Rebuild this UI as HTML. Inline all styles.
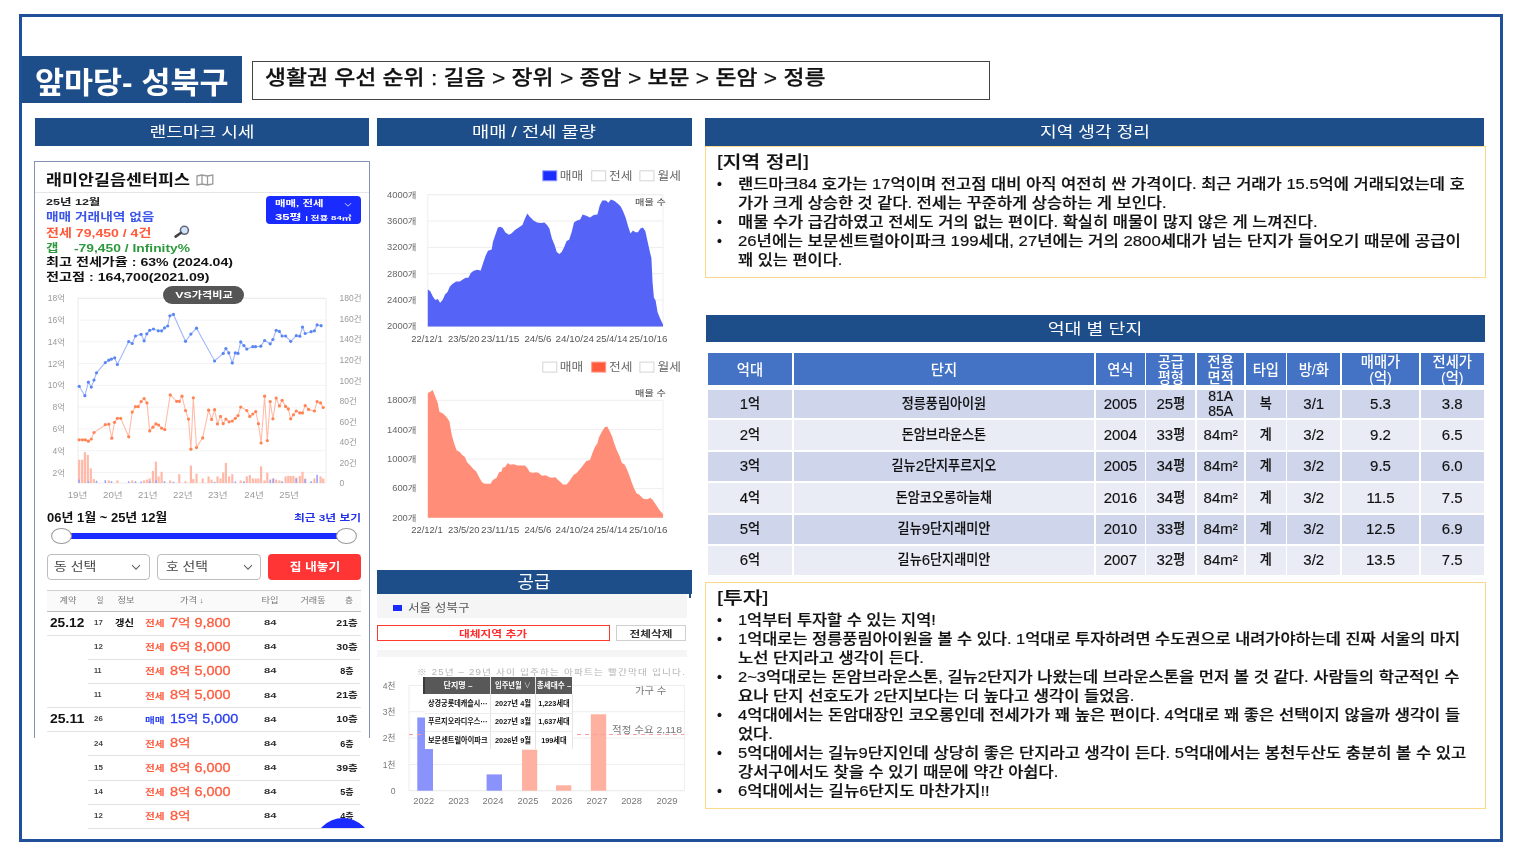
<!DOCTYPE html>
<html lang="ko">
<head>
<meta charset="utf-8">
<title>앞마당- 성북구</title>
<style>
*{box-sizing:border-box;margin:0;padding:0}
html,body{width:1520px;height:855px;background:#fff;overflow:hidden}
body{position:relative;font-family:"Liberation Sans","Noto Sans CJK KR",sans-serif;color:#111}
.abs{position:absolute}
.sm{position:absolute;white-space:nowrap}
.k{font-weight:700}
.frame{left:19px;top:14px;width:1484px;height:828px;border:3px solid #21509a}
.bar{background:#1e4e8a}
.ht{color:#fff;font-size:15.2px;line-height:28px}
.ybox{border:1.5px solid #f9d98a;background:#fff}
.md{font-family:"Liberation Sans","Noto Sans CJK KR Medium","Noto Sans CJK KR",sans-serif}
.bt{font-size:14.8px;line-height:19px;color:#111;-webkit-text-stroke:0.2px #111}
.bh{font-size:17.2px;line-height:22px;color:#111;-webkit-text-stroke:0.2px #111}
.tc{font-family:"Liberation Sans","Noto Sans CJK KR Medium","Noto Sans CJK KR",sans-serif;-webkit-text-stroke:0.15px currentColor;position:absolute;display:flex;align-items:center;justify-content:center;text-align:center;white-space:nowrap;font-size:13.1px;line-height:12.6px;color:#111}
.tc i{font-style:normal;font-size:15px}
.th{background:#4472c4;color:#fff;font-size:14.3px;line-height:16.2px;-webkit-text-stroke:0;padding-top:1px}
.r1{background:#cfd5ea}.r2{background:#e9ebf5}
.card{left:33.8px;top:161px;width:336.6px;height:576.5px;border:1.6px solid #8692b4;border-bottom:none;background:#fff}
</style>
</head>
<body>
<div class="abs frame"></div>
<div class="abs bar" style="left:22px;top:56px;width:220px;height:47px"></div>
<div class="abs" style="left:252px;top:61px;width:738px;height:38.5px;border:1px solid #444"></div>

<div class="sm" style="left:35.0px;top:59.6px;color:#fff;font-weight:700;font-size:30px;line-height:46px;transform-origin:0 50%;transform:scaleX(1.0520)">앞마당- 성북구</div>
<div class="sm md" style="left:264.5px;top:61.9px;font-size:20.6px;line-height:32px;color:#111;-webkit-text-stroke:0.25px #111;transform-origin:0 50%;transform:scaleX(1.1078)">생활권 우선 순위 : 길음 &gt; 장위 &gt; 종암 &gt; 보문 &gt; 돈암 &gt; 정릉</div>
<div class="abs bar" style="left:35px;top:118px;width:334px;height:28px"></div>
<div class="sm ht" style="left:202.0px;top:117.5px;transform-origin:0 50%;transform:translateX(-52.50px) scaleX(1.1923)">랜드마크 시세</div>
<div class="abs bar" style="left:377px;top:118px;width:314.5px;height:28px"></div>
<div class="sm ht" style="left:534.4px;top:117.5px;transform-origin:0 50%;transform:translateX(-62.00px) scaleX(1.2312)">매매 / 전세 물량</div>
<div class="abs bar" style="left:705px;top:118px;width:779px;height:28px"></div>
<div class="sm ht" style="left:1094.5px;top:117.5px;transform-origin:0 50%;transform:translateX(-55.00px) scaleX(1.1920)">지역 생각 정리</div>
<div class="abs bar" style="left:706px;top:315px;width:779px;height:27px"></div>
<div class="sm ht" style="left:1094.7px;top:314.5px;transform-origin:0 50%;transform:translateX(-47.25px) scaleX(1.2067)">억대 별 단지</div>
<div class="abs ybox" style="left:705px;top:146px;width:781px;height:131.5px"></div>
<div class="sm md bh" style="left:717.0px;top:151.0px;transform-origin:0 50%;transform:scaleX(1.1857)"><span style="position:relative;top:-1.2px">[</span>지역 정리<span style="position:relative;top:-1.2px">]</span></div>
<div class="sm bt" style="left:717px;top:174.5px;font-size:14px">•</div>
<div class="sm md bt" style="left:737.8px;top:174.5px;transform-origin:0 50%;transform:scaleX(1.1177)">랜드마크84 호가는 17억이며 전고점 대비 아직 여전히 싼 가격이다. 최근 거래가 15.5억에 거래되었는데 호</div>
<div class="sm md bt" style="left:737.8px;top:193.5px;transform-origin:0 50%;transform:scaleX(1.1114)">가가 크게 상승한 것 같다. 전세는 꾸준하게 상승하는 게 보인다.</div>
<div class="sm bt" style="left:717px;top:212.5px;font-size:14px">•</div>
<div class="sm md bt" style="left:737.8px;top:212.5px;transform-origin:0 50%;transform:scaleX(1.1136)">매물 수가 급감하였고 전세도 거의 없는 편이다. 확실히 매물이 많지 않은 게 느껴진다.</div>
<div class="sm bt" style="left:717px;top:231.5px;font-size:14px">•</div>
<div class="sm md bt" style="left:737.8px;top:231.5px;transform-origin:0 50%;transform:scaleX(1.1307)">26년에는 보문센트럴아이파크 199세대, 27년에는 거의 2800세대가 넘는 단지가 들어오기 때문에 공급이</div>
<div class="sm md bt" style="left:737.8px;top:250.5px;transform-origin:0 50%;transform:scaleX(1.1105)">꽤 있는 편이다.</div>
<div class="abs ybox" style="left:705px;top:582px;width:781px;height:227.4px"></div>
<div class="sm md bh" style="left:717.0px;top:587.0px;transform-origin:0 50%;transform:scaleX(1.2499)"><span style="position:relative;top:-1.2px">[</span>투자<span style="position:relative;top:-1.2px">]</span></div>
<div class="sm bt" style="left:717px;top:610.8px;font-size:14px">•</div>
<div class="sm md bt" style="left:737.8px;top:610.8px;transform-origin:0 50%;transform:scaleX(1.1079)">1억부터 투자할 수 있는 지역!</div>
<div class="sm bt" style="left:717px;top:629.9px;font-size:14px">•</div>
<div class="sm md bt" style="left:737.8px;top:629.9px;transform-origin:0 50%;transform:scaleX(1.1091)">1억대로는 정릉풍림아이원을 볼 수 있다. 1억대로 투자하려면 수도권으로 내려가야하는데 진짜 서울의 마지</div>
<div class="sm md bt" style="left:737.8px;top:648.9px;transform-origin:0 50%;transform:scaleX(1.1185)">노선 단지라고 생각이 든다.</div>
<div class="sm bt" style="left:717px;top:668.0px;font-size:14px">•</div>
<div class="sm md bt" style="left:737.8px;top:668.0px;transform-origin:0 50%;transform:scaleX(1.1186)">2~3억대로는 돈암브라운스톤, 길뉴2단지가 나왔는데 브라운스톤을 먼저 볼 것 같다. 사람들의 학군적인 수</div>
<div class="sm md bt" style="left:737.8px;top:687.1px;transform-origin:0 50%;transform:scaleX(1.1190)">요나 단지 선호도가 2단지보다는 더 높다고 생각이 들었음.</div>
<div class="sm bt" style="left:717px;top:706.1px;font-size:14px">•</div>
<div class="sm md bt" style="left:737.8px;top:706.1px;transform-origin:0 50%;transform:scaleX(1.1183)">4억대에서는 돈암대장인 코오롱인데 전세가가 꽤 높은 편이다. 4억대로 꽤 좋은 선택이지 않을까 생각이 들</div>
<div class="sm md bt" style="left:737.8px;top:725.2px;transform-origin:0 50%;transform:scaleX(1.1103)">었다.</div>
<div class="sm bt" style="left:717px;top:744.3px;font-size:14px">•</div>
<div class="sm md bt" style="left:737.8px;top:744.3px;transform-origin:0 50%;transform:scaleX(1.1207)">5억대에서는 길뉴9단지인데 상당히 좋은 단지라고 생각이 든다. 5억대에서는 봉천두산도 충분히 볼 수 있고</div>
<div class="sm md bt" style="left:737.8px;top:763.4px;transform-origin:0 50%;transform:scaleX(1.1143)">강서구에서도 찾을 수 있기 때문에 약간 아쉽다.</div>
<div class="sm bt" style="left:717px;top:782.4px;font-size:14px">•</div>
<div class="sm md bt" style="left:737.8px;top:782.4px;transform-origin:0 50%;transform:scaleX(1.1262)">6억대에서는 길뉴6단지도 마찬가지!!</div>
<div class="tc th" style="left:708.0px;top:353.3px;width:83.9px;height:32px">억대</div>
<div class="tc th" style="left:793.5px;top:353.3px;width:300.9px;height:32px">단지</div>
<div class="tc th" style="left:1096.0px;top:353.3px;width:48.7px;height:32px">연식</div>
<div class="tc th" style="left:1146.3px;top:353.3px;width:49.1px;height:32px">공급<br>평형</div>
<div class="tc th" style="left:1197.0px;top:353.3px;width:47.4px;height:32px">전용<br>면적</div>
<div class="tc th" style="left:1246.0px;top:353.3px;width:39.6px;height:32px">타입</div>
<div class="tc th" style="left:1287.2px;top:353.3px;width:53.2px;height:32px">방/화</div>
<div class="tc th" style="left:1342.0px;top:353.3px;width:77.1px;height:32px">매매가<br>(억)</div>
<div class="tc th" style="left:1420.7px;top:353.3px;width:63.2px;height:32px">전세가<br>(억)</div>
<div class="tc r1" style="left:708.0px;top:390.0px;width:83.9px;height:28.4px"><i>1</i>억</div>
<div class="tc r1" style="left:793.5px;top:390.0px;width:300.9px;height:28.4px">정릉풍림아이원</div>
<div class="tc r1" style="left:1096.0px;top:390.0px;width:48.7px;height:28.4px"><i>2005</i></div>
<div class="tc r1" style="left:1146.3px;top:390.0px;width:49.1px;height:28.4px"><i>25</i>평</div>
<div class="tc r1" style="left:1197.0px;top:390.0px;width:47.4px;height:28.4px"><i style="font-size:14px;line-height:15.1px">81A<br>85A</i></div>
<div class="tc r1" style="left:1246.0px;top:390.0px;width:39.6px;height:28.4px">복</div>
<div class="tc r1" style="left:1287.2px;top:390.0px;width:53.2px;height:28.4px"><i>3/1</i></div>
<div class="tc r1" style="left:1342.0px;top:390.0px;width:77.1px;height:28.4px"><i>5.3</i></div>
<div class="tc r1" style="left:1420.7px;top:390.0px;width:63.2px;height:28.4px"><i>3.8</i></div>
<div class="tc r2" style="left:708.0px;top:420.4px;width:83.9px;height:29.8px"><i>2</i>억</div>
<div class="tc r2" style="left:793.5px;top:420.4px;width:300.9px;height:29.8px">돈암브라운스톤</div>
<div class="tc r2" style="left:1096.0px;top:420.4px;width:48.7px;height:29.8px"><i>2004</i></div>
<div class="tc r2" style="left:1146.3px;top:420.4px;width:49.1px;height:29.8px"><i>33</i>평</div>
<div class="tc r2" style="left:1197.0px;top:420.4px;width:47.4px;height:29.8px"><i>84m²</i></div>
<div class="tc r2" style="left:1246.0px;top:420.4px;width:39.6px;height:29.8px">계</div>
<div class="tc r2" style="left:1287.2px;top:420.4px;width:53.2px;height:29.8px"><i>3/2</i></div>
<div class="tc r2" style="left:1342.0px;top:420.4px;width:77.1px;height:29.8px"><i>9.2</i></div>
<div class="tc r2" style="left:1420.7px;top:420.4px;width:63.2px;height:29.8px"><i>6.5</i></div>
<div class="tc r1" style="left:708.0px;top:452.0px;width:83.9px;height:29.3px"><i>3</i>억</div>
<div class="tc r1" style="left:793.5px;top:452.0px;width:300.9px;height:29.3px">길뉴<i>2</i>단지푸르지오</div>
<div class="tc r1" style="left:1096.0px;top:452.0px;width:48.7px;height:29.3px"><i>2005</i></div>
<div class="tc r1" style="left:1146.3px;top:452.0px;width:49.1px;height:29.3px"><i>34</i>평</div>
<div class="tc r1" style="left:1197.0px;top:452.0px;width:47.4px;height:29.3px"><i>84m²</i></div>
<div class="tc r1" style="left:1246.0px;top:452.0px;width:39.6px;height:29.3px">계</div>
<div class="tc r1" style="left:1287.2px;top:452.0px;width:53.2px;height:29.3px"><i>3/2</i></div>
<div class="tc r1" style="left:1342.0px;top:452.0px;width:77.1px;height:29.3px"><i>9.5</i></div>
<div class="tc r1" style="left:1420.7px;top:452.0px;width:63.2px;height:29.3px"><i>6.0</i></div>
<div class="tc r2" style="left:708.0px;top:483.3px;width:83.9px;height:29.3px"><i>4</i>억</div>
<div class="tc r2" style="left:793.5px;top:483.3px;width:300.9px;height:29.3px">돈암코오롱하늘채</div>
<div class="tc r2" style="left:1096.0px;top:483.3px;width:48.7px;height:29.3px"><i>2016</i></div>
<div class="tc r2" style="left:1146.3px;top:483.3px;width:49.1px;height:29.3px"><i>34</i>평</div>
<div class="tc r2" style="left:1197.0px;top:483.3px;width:47.4px;height:29.3px"><i>84m²</i></div>
<div class="tc r2" style="left:1246.0px;top:483.3px;width:39.6px;height:29.3px">계</div>
<div class="tc r2" style="left:1287.2px;top:483.3px;width:53.2px;height:29.3px"><i>3/2</i></div>
<div class="tc r2" style="left:1342.0px;top:483.3px;width:77.1px;height:29.3px"><i>11.5</i></div>
<div class="tc r2" style="left:1420.7px;top:483.3px;width:63.2px;height:29.3px"><i>7.5</i></div>
<div class="tc r1" style="left:708.0px;top:514.6px;width:83.9px;height:29.3px"><i>5</i>억</div>
<div class="tc r1" style="left:793.5px;top:514.6px;width:300.9px;height:29.3px">길뉴<i>9</i>단지래미안</div>
<div class="tc r1" style="left:1096.0px;top:514.6px;width:48.7px;height:29.3px"><i>2010</i></div>
<div class="tc r1" style="left:1146.3px;top:514.6px;width:49.1px;height:29.3px"><i>33</i>평</div>
<div class="tc r1" style="left:1197.0px;top:514.6px;width:47.4px;height:29.3px"><i>84m²</i></div>
<div class="tc r1" style="left:1246.0px;top:514.6px;width:39.6px;height:29.3px">계</div>
<div class="tc r1" style="left:1287.2px;top:514.6px;width:53.2px;height:29.3px"><i>3/2</i></div>
<div class="tc r1" style="left:1342.0px;top:514.6px;width:77.1px;height:29.3px"><i>12.5</i></div>
<div class="tc r1" style="left:1420.7px;top:514.6px;width:63.2px;height:29.3px"><i>6.9</i></div>
<div class="tc r2" style="left:708.0px;top:545.9px;width:83.9px;height:29.1px"><i>6</i>억</div>
<div class="tc r2" style="left:793.5px;top:545.9px;width:300.9px;height:29.1px">길뉴<i>6</i>단지래미안</div>
<div class="tc r2" style="left:1096.0px;top:545.9px;width:48.7px;height:29.1px"><i>2007</i></div>
<div class="tc r2" style="left:1146.3px;top:545.9px;width:49.1px;height:29.1px"><i>32</i>평</div>
<div class="tc r2" style="left:1197.0px;top:545.9px;width:47.4px;height:29.1px"><i>84m²</i></div>
<div class="tc r2" style="left:1246.0px;top:545.9px;width:39.6px;height:29.1px">계</div>
<div class="tc r2" style="left:1287.2px;top:545.9px;width:53.2px;height:29.1px"><i>3/2</i></div>
<div class="tc r2" style="left:1342.0px;top:545.9px;width:77.1px;height:29.1px"><i>13.5</i></div>
<div class="tc r2" style="left:1420.7px;top:545.9px;width:63.2px;height:29.1px"><i>7.5</i></div>
<div class="abs card"></div>
<div class="sm" style="left:46.3px;top:171.6px;font-size:14.8px;line-height:16px;color:#111;font-weight:700;transform-origin:0 50%;transform:scaleX(1.1752)">래미안길음센터피스</div>
<svg class="abs" style="left:196px;top:173.5px" width="18" height="12" viewBox="0 0 18 12"><path d="M1 2 L6 1 L11.5 2 L16.8 1 V10 L11.5 11 L6 10 L1 11 Z M6 1 V10 M11.5 2 V11" fill="none" stroke="#9a9a9a" stroke-width="1.3"/></svg>
<div class="abs" style="left:35.4px;top:192px;width:333.4px;height:1px;background:#e6e6e6"></div>
<div class="sm" style="left:46.3px;top:193.5px;font-size:9.2px;line-height:16px;color:#222;font-weight:700;transform-origin:0 50%;transform:scaleX(1.3632)">25년 12월</div>
<div class="sm" style="left:46.3px;top:208.9px;font-size:11px;line-height:16px;color:#3b55e6;font-weight:700;transform-origin:0 50%;transform:scaleX(1.2449)">매매 거래내역 없음</div>
<div class="sm" style="left:46.3px;top:224.6px;font-size:10.8px;line-height:16px;color:#ff5a3c;font-weight:700;transform-origin:0 50%;transform:scaleX(1.3040)">전세 79,450 / 4건</div>
<svg class="abs" style="left:174px;top:224px" width="16" height="16" viewBox="0 0 16 16"><circle cx="10.4" cy="6.3" r="4" fill="#cfe4ff" stroke="#667" stroke-width="1.6"/><path d="M7 8.8 L1.6 12.6" stroke="#444" stroke-width="2.6" stroke-linecap="round"/></svg>
<div class="sm" style="left:46.3px;top:239.8px;font-size:10.8px;line-height:16px;color:#2c9a3c;font-weight:700;transform-origin:0 50%;transform:scaleX(1.2478)">갭</div>
<div class="sm" style="left:73.5px;top:239.8px;font-size:10.8px;line-height:16px;color:#2c9a3c;font-weight:700;transform-origin:0 50%;transform:scaleX(1.2802)">-79,450 / Infinity%</div>
<div class="sm" style="left:46.3px;top:254.2px;font-size:11.2px;line-height:16px;color:#111;font-weight:700;transform-origin:0 50%;transform:scaleX(1.2618)">최고 전세가율 : 63% (2024.04)</div>
<div class="sm" style="left:46.3px;top:269.2px;font-size:11.2px;line-height:16px;color:#111;font-weight:700;transform-origin:0 50%;transform:scaleX(1.2651)">전고점 : 164,700(2021.09)</div>
<div class="abs" style="left:266px;top:196px;width:95px;height:28px;background:#1a2bff;border-radius:4px"></div>
<div class="sm" style="left:275.0px;top:198.2px;font-size:7.6px;line-height:12px;color:#fff;font-weight:700;transform-origin:0 50%;transform:scaleX(1.5075)">매매, 전세</div>
<svg class="abs" style="left:344px;top:201.5px" width="8" height="6" viewBox="0 0 8 6"><path d="M1 1.2 L4 4.2 L7 1.2" fill="none" stroke="#cfd4ff" stroke-width="1"/></svg>
<div class="sm" style="left:275.0px;top:211.3px;font-size:8.4px;line-height:12px;color:#fff;font-weight:700;transform-origin:0 50%;transform:scaleX(1.5617)">35평 <span style="font-size:6.2px">| 전용 84㎡</span></div>
<svg class="abs" style="left:0;top:0" width="1520" height="855" viewBox="0 0 1520 855">
<style>.ax{font-family:"Liberation Sans","Noto Sans CJK KR",sans-serif;font-size:8.5px;fill:#9a9a9a}</style>
<line x1="78" x2="326" y1="298.3" y2="298.3" stroke="#f3f3f3" stroke-width="1"/><line x1="78" x2="326" y1="320.1" y2="320.1" stroke="#f3f3f3" stroke-width="1"/><line x1="78" x2="326" y1="341.8" y2="341.8" stroke="#f3f3f3" stroke-width="1"/><line x1="78" x2="326" y1="363.6" y2="363.6" stroke="#f3f3f3" stroke-width="1"/><line x1="78" x2="326" y1="385.4" y2="385.4" stroke="#f3f3f3" stroke-width="1"/><line x1="78" x2="326" y1="407.1" y2="407.1" stroke="#f3f3f3" stroke-width="1"/><line x1="78" x2="326" y1="428.9" y2="428.9" stroke="#f3f3f3" stroke-width="1"/><line x1="78" x2="326" y1="450.7" y2="450.7" stroke="#f3f3f3" stroke-width="1"/><line x1="78" x2="326" y1="472.5" y2="472.5" stroke="#f3f3f3" stroke-width="1"/><rect x="78" y="298.3" width="248" height="184.7" fill="none" stroke="#ececec" stroke-width="1"/><rect x="78.1" y="459.7" width="2.2" height="23.3" fill="#ffb9a8"/><rect x="81.1" y="459.7" width="2.2" height="23.3" fill="#ffb9a8"/><rect x="83.8" y="452.2" width="2.2" height="30.8" fill="#ffb9a8"/><rect x="86.7" y="454.9" width="2.2" height="28.1" fill="#ffb9a8"/><rect x="89.7" y="468.3" width="2.2" height="14.7" fill="#ffb9a8"/><rect x="92.7" y="479.1" width="2.2" height="3.9" fill="#ffb9a8"/><rect x="107.7" y="480.4" width="2.2" height="2.6" fill="#ffb9a8"/><rect x="116.3" y="480.4" width="2.2" height="2.6" fill="#ffb9a8"/><rect x="131.1" y="480.4" width="2.2" height="2.6" fill="#ffb9a8"/><rect x="143.0" y="480.4" width="2.2" height="2.6" fill="#ffb9a8"/><rect x="145.9" y="479.6" width="2.2" height="3.4" fill="#ffb9a8"/><rect x="148.6" y="478.5" width="2.2" height="4.5" fill="#ffb9a8"/><rect x="151.8" y="471.0" width="2.2" height="12.0" fill="#ffb9a8"/><rect x="154.8" y="461.6" width="2.2" height="21.4" fill="#ffb9a8"/><rect x="157.5" y="476.4" width="2.2" height="6.6" fill="#ffb9a8"/><rect x="160.5" y="471.8" width="2.2" height="11.2" fill="#ffb9a8"/><rect x="169.1" y="480.4" width="2.2" height="2.6" fill="#ffb9a8"/><rect x="178.2" y="474.2" width="2.2" height="8.8" fill="#ffb9a8"/><rect x="184.4" y="481.2" width="2.2" height="1.8" fill="#ffb9a8"/><rect x="189.8" y="465.6" width="2.2" height="17.4" fill="#ffb9a8"/><rect x="192.2" y="479.1" width="2.2" height="3.9" fill="#ffb9a8"/><rect x="195.4" y="473.7" width="2.2" height="9.3" fill="#ffb9a8"/><rect x="201.6" y="478.5" width="2.2" height="4.5" fill="#ffb9a8"/><rect x="207.5" y="476.4" width="2.2" height="6.6" fill="#ffb9a8"/><rect x="210.5" y="479.6" width="2.2" height="3.4" fill="#ffb9a8"/><rect x="216.4" y="476.4" width="2.2" height="6.6" fill="#ffb9a8"/><rect x="219.4" y="478.5" width="2.2" height="4.5" fill="#ffb9a8"/><rect x="222.1" y="472.4" width="2.2" height="10.6" fill="#ffb9a8"/><rect x="224.8" y="462.9" width="2.2" height="20.1" fill="#ffb9a8"/><rect x="228.0" y="476.4" width="2.2" height="6.6" fill="#ffb9a8"/><rect x="231.2" y="474.2" width="2.2" height="8.8" fill="#ffb9a8"/><rect x="239.6" y="480.4" width="2.2" height="2.6" fill="#ffb9a8"/><rect x="245.7" y="476.4" width="2.2" height="6.6" fill="#ffb9a8"/><rect x="248.7" y="475.0" width="2.2" height="8.0" fill="#ffb9a8"/><rect x="251.7" y="478.5" width="2.2" height="4.5" fill="#ffb9a8"/><rect x="254.6" y="478.5" width="2.2" height="4.5" fill="#ffb9a8"/><rect x="257.3" y="478.5" width="2.2" height="4.5" fill="#ffb9a8"/><rect x="260.0" y="466.4" width="2.2" height="16.6" fill="#ffb9a8"/><rect x="263.5" y="480.4" width="2.2" height="2.6" fill="#ffb9a8"/><rect x="266.2" y="472.6" width="2.2" height="10.4" fill="#ffb9a8"/><rect x="271.8" y="478.5" width="2.2" height="4.5" fill="#ffb9a8"/><rect x="275.1" y="479.6" width="2.2" height="3.4" fill="#ffb9a8"/><rect x="278.3" y="480.4" width="2.2" height="2.6" fill="#ffb9a8"/><rect x="284.5" y="476.4" width="2.2" height="6.6" fill="#ffb9a8"/><rect x="287.2" y="475.9" width="2.2" height="7.1" fill="#ffb9a8"/><rect x="289.6" y="475.9" width="2.2" height="7.1" fill="#ffb9a8"/><rect x="292.3" y="475.9" width="2.2" height="7.1" fill="#ffb9a8"/><rect x="295.2" y="477.7" width="2.2" height="5.3" fill="#ffb9a8"/><rect x="298.7" y="475.9" width="2.2" height="7.1" fill="#ffb9a8"/><rect x="301.4" y="471.8" width="2.2" height="11.2" fill="#ffb9a8"/><rect x="304.1" y="478.5" width="2.2" height="4.5" fill="#ffb9a8"/><rect x="313.3" y="478.5" width="2.2" height="4.5" fill="#ffb9a8"/><rect x="319.5" y="476.4" width="2.2" height="6.6" fill="#ffb9a8"/><rect x="322.1" y="478.5" width="2.2" height="4.5" fill="#ffb9a8"/><rect x="78.4" y="479.6" width="1.6" height="3.4" fill="#9aa6f5"/><rect x="87.6" y="481.2" width="1.6" height="1.8" fill="#9aa6f5"/><rect x="95.7" y="480.7" width="1.6" height="2.3" fill="#9aa6f5"/><rect x="104.5" y="480.2" width="1.6" height="2.8" fill="#9aa6f5"/><rect x="110.7" y="481.2" width="1.6" height="1.8" fill="#9aa6f5"/><rect x="127.9" y="481.2" width="1.6" height="1.8" fill="#9aa6f5"/><rect x="134.7" y="481.2" width="1.6" height="1.8" fill="#9aa6f5"/><rect x="140.3" y="481.5" width="1.6" height="1.5" fill="#9aa6f5"/><rect x="148.9" y="481.2" width="1.6" height="1.8" fill="#9aa6f5"/><rect x="155.1" y="480.2" width="1.6" height="2.8" fill="#9aa6f5"/><rect x="163.7" y="481.2" width="1.6" height="1.8" fill="#9aa6f5"/><rect x="172.6" y="481.8" width="1.6" height="1.2" fill="#9aa6f5"/><rect x="213.8" y="481.8" width="1.6" height="1.2" fill="#9aa6f5"/><rect x="234.5" y="481.5" width="1.6" height="1.5" fill="#9aa6f5"/><rect x="243.1" y="481.2" width="1.6" height="1.8" fill="#9aa6f5"/><rect x="269.4" y="479.6" width="1.6" height="3.4" fill="#9aa6f5"/><rect x="272.7" y="478.5" width="1.6" height="4.5" fill="#9aa6f5"/><rect x="281.3" y="481.2" width="1.6" height="1.8" fill="#9aa6f5"/><rect x="295.5" y="478.5" width="1.6" height="4.5" fill="#9aa6f5"/><rect x="304.4" y="479.1" width="1.6" height="3.9" fill="#9aa6f5"/><rect x="310.3" y="481.2" width="1.6" height="1.8" fill="#9aa6f5"/><rect x="316.3" y="474.8" width="1.6" height="8.2" fill="#9aa6f5"/>
<polyline points="79.2,386.3 84.9,395.7 88.4,382.2 91.3,387.1 94.0,380.1 96.5,372.8 105.3,362.6 108.8,360.2 111.5,359.1 114.7,357.8 117.4,364.5 128.7,341.6 132.2,343.5 135.5,336.0 141.1,334.3 144.1,340.8 146.8,333.8 149.7,330.3 153.5,329.0 158.3,330.8 161.6,330.8 164.5,327.9 167.7,326.0 169.9,315.8 173.4,314.4 185.5,341.3 190.9,334.1 196.5,328.2 214.6,361.0 223.2,353.4 225.9,348.6 228.8,352.9 232.3,362.9 235.3,352.9 238.0,353.4 240.7,341.9 243.9,345.6 246.8,349.1 252.8,346.7 255.5,346.7 260.8,346.2 264.6,340.5 270.2,343.8 272.9,339.5 276.2,330.3 279.4,331.4 282.1,336.0 285.6,336.0 290.7,341.3 296.3,335.7 299.8,336.2 302.5,327.1 305.2,333.5 311.1,331.7 314.4,330.8 317.1,324.9 321.1,325.7" fill="none" stroke="#a3b6fa" stroke-width="1.1"/><circle cx="79.2" cy="386.3" r="1.6" fill="#5a86f4"/><circle cx="84.9" cy="395.7" r="1.6" fill="#5a86f4"/><circle cx="88.4" cy="382.2" r="1.6" fill="#5a86f4"/><circle cx="91.3" cy="387.1" r="1.6" fill="#5a86f4"/><circle cx="94.0" cy="380.1" r="1.6" fill="#5a86f4"/><circle cx="96.5" cy="372.8" r="1.6" fill="#5a86f4"/><circle cx="105.3" cy="362.6" r="1.6" fill="#5a86f4"/><circle cx="108.8" cy="360.2" r="1.6" fill="#5a86f4"/><circle cx="111.5" cy="359.1" r="1.6" fill="#5a86f4"/><circle cx="114.7" cy="357.8" r="1.6" fill="#5a86f4"/><circle cx="117.4" cy="364.5" r="1.6" fill="#5a86f4"/><circle cx="128.7" cy="341.6" r="1.6" fill="#5a86f4"/><circle cx="132.2" cy="343.5" r="1.6" fill="#5a86f4"/><circle cx="135.5" cy="336.0" r="1.6" fill="#5a86f4"/><circle cx="141.1" cy="334.3" r="1.6" fill="#5a86f4"/><circle cx="144.1" cy="340.8" r="1.6" fill="#5a86f4"/><circle cx="146.8" cy="333.8" r="1.6" fill="#5a86f4"/><circle cx="149.7" cy="330.3" r="1.6" fill="#5a86f4"/><circle cx="153.5" cy="329.0" r="1.6" fill="#5a86f4"/><circle cx="158.3" cy="330.8" r="1.6" fill="#5a86f4"/><circle cx="161.6" cy="330.8" r="1.6" fill="#5a86f4"/><circle cx="164.5" cy="327.9" r="1.6" fill="#5a86f4"/><circle cx="167.7" cy="326.0" r="1.6" fill="#5a86f4"/><circle cx="169.9" cy="315.8" r="1.6" fill="#5a86f4"/><circle cx="173.4" cy="314.4" r="1.6" fill="#5a86f4"/><circle cx="185.5" cy="341.3" r="1.6" fill="#5a86f4"/><circle cx="190.9" cy="334.1" r="1.6" fill="#5a86f4"/><circle cx="196.5" cy="328.2" r="1.6" fill="#5a86f4"/><circle cx="214.6" cy="361.0" r="1.6" fill="#5a86f4"/><circle cx="223.2" cy="353.4" r="1.6" fill="#5a86f4"/><circle cx="225.9" cy="348.6" r="1.6" fill="#5a86f4"/><circle cx="228.8" cy="352.9" r="1.6" fill="#5a86f4"/><circle cx="232.3" cy="362.9" r="1.6" fill="#5a86f4"/><circle cx="235.3" cy="352.9" r="1.6" fill="#5a86f4"/><circle cx="238.0" cy="353.4" r="1.6" fill="#5a86f4"/><circle cx="240.7" cy="341.9" r="1.6" fill="#5a86f4"/><circle cx="243.9" cy="345.6" r="1.6" fill="#5a86f4"/><circle cx="246.8" cy="349.1" r="1.6" fill="#5a86f4"/><circle cx="252.8" cy="346.7" r="1.6" fill="#5a86f4"/><circle cx="255.5" cy="346.7" r="1.6" fill="#5a86f4"/><circle cx="260.8" cy="346.2" r="1.6" fill="#5a86f4"/><circle cx="264.6" cy="340.5" r="1.6" fill="#5a86f4"/><circle cx="270.2" cy="343.8" r="1.6" fill="#5a86f4"/><circle cx="272.9" cy="339.5" r="1.6" fill="#5a86f4"/><circle cx="276.2" cy="330.3" r="1.6" fill="#5a86f4"/><circle cx="279.4" cy="331.4" r="1.6" fill="#5a86f4"/><circle cx="282.1" cy="336.0" r="1.6" fill="#5a86f4"/><circle cx="285.6" cy="336.0" r="1.6" fill="#5a86f4"/><circle cx="290.7" cy="341.3" r="1.6" fill="#5a86f4"/><circle cx="296.3" cy="335.7" r="1.6" fill="#5a86f4"/><circle cx="299.8" cy="336.2" r="1.6" fill="#5a86f4"/><circle cx="302.5" cy="327.1" r="1.6" fill="#5a86f4"/><circle cx="305.2" cy="333.5" r="1.6" fill="#5a86f4"/><circle cx="311.1" cy="331.7" r="1.6" fill="#5a86f4"/><circle cx="314.4" cy="330.8" r="1.6" fill="#5a86f4"/><circle cx="317.1" cy="324.9" r="1.6" fill="#5a86f4"/><circle cx="321.1" cy="325.7" r="1.6" fill="#5a86f4"/>
<polyline points="79.2,439.8 82.5,439.8 85.4,439.8 88.4,441.2 91.3,439.0 94.0,432.5 105.3,424.7 108.8,424.2 111.8,438.2 114.5,422.3 117.4,418.3 120.7,418.3 128.7,436.8 132.2,412.1 135.5,406.7 138.2,406.7 141.1,401.6 144.1,398.6 147.0,402.9 149.7,430.9 152.9,427.2 155.9,423.9 158.6,425.0 161.6,428.2 164.8,429.6 170.2,394.9 176.6,401.3 179.3,401.3 182.0,396.2 185.5,410.5 188.5,419.1 190.9,449.2 193.3,397.8 196.5,447.6 202.7,437.9 208.6,410.2 211.6,419.4 214.6,409.7 217.5,423.9 220.5,416.4 223.2,423.7 225.9,419.1 229.1,421.8 232.3,421.0 235.3,418.3 238.0,415.6 240.7,407.0 246.8,410.5 249.8,416.4 252.8,414.0 255.7,411.6 258.4,423.7 261.1,443.0 264.6,396.2 267.3,440.6 270.2,401.6 272.9,418.8 276.2,398.1 279.4,405.9 282.1,400.3 285.6,406.4 288.3,408.9 290.7,418.8 293.4,414.8 296.3,411.0 299.8,412.9 302.5,412.9 305.2,405.6 308.5,409.4 314.4,411.0 317.1,401.6 320.6,402.9 323.2,407.5" fill="none" stroke="#ffbca9" stroke-width="1.1"/><circle cx="79.2" cy="439.8" r="1.6" fill="#ff8353"/><circle cx="82.5" cy="439.8" r="1.6" fill="#ff8353"/><circle cx="85.4" cy="439.8" r="1.6" fill="#ff8353"/><circle cx="88.4" cy="441.2" r="1.6" fill="#ff8353"/><circle cx="91.3" cy="439.0" r="1.6" fill="#ff8353"/><circle cx="94.0" cy="432.5" r="1.6" fill="#ff8353"/><circle cx="105.3" cy="424.7" r="1.6" fill="#ff8353"/><circle cx="108.8" cy="424.2" r="1.6" fill="#ff8353"/><circle cx="111.8" cy="438.2" r="1.6" fill="#ff8353"/><circle cx="114.5" cy="422.3" r="1.6" fill="#ff8353"/><circle cx="117.4" cy="418.3" r="1.6" fill="#ff8353"/><circle cx="120.7" cy="418.3" r="1.6" fill="#ff8353"/><circle cx="128.7" cy="436.8" r="1.6" fill="#ff8353"/><circle cx="132.2" cy="412.1" r="1.6" fill="#ff8353"/><circle cx="135.5" cy="406.7" r="1.6" fill="#ff8353"/><circle cx="138.2" cy="406.7" r="1.6" fill="#ff8353"/><circle cx="141.1" cy="401.6" r="1.6" fill="#ff8353"/><circle cx="144.1" cy="398.6" r="1.6" fill="#ff8353"/><circle cx="147.0" cy="402.9" r="1.6" fill="#ff8353"/><circle cx="149.7" cy="430.9" r="1.6" fill="#ff8353"/><circle cx="152.9" cy="427.2" r="1.6" fill="#ff8353"/><circle cx="155.9" cy="423.9" r="1.6" fill="#ff8353"/><circle cx="158.6" cy="425.0" r="1.6" fill="#ff8353"/><circle cx="161.6" cy="428.2" r="1.6" fill="#ff8353"/><circle cx="164.8" cy="429.6" r="1.6" fill="#ff8353"/><circle cx="170.2" cy="394.9" r="1.6" fill="#ff8353"/><circle cx="176.6" cy="401.3" r="1.6" fill="#ff8353"/><circle cx="179.3" cy="401.3" r="1.6" fill="#ff8353"/><circle cx="182.0" cy="396.2" r="1.6" fill="#ff8353"/><circle cx="185.5" cy="410.5" r="1.6" fill="#ff8353"/><circle cx="188.5" cy="419.1" r="1.6" fill="#ff8353"/><circle cx="190.9" cy="449.2" r="1.6" fill="#ff8353"/><circle cx="193.3" cy="397.8" r="1.6" fill="#ff8353"/><circle cx="196.5" cy="447.6" r="1.6" fill="#ff8353"/><circle cx="202.7" cy="437.9" r="1.6" fill="#ff8353"/><circle cx="208.6" cy="410.2" r="1.6" fill="#ff8353"/><circle cx="211.6" cy="419.4" r="1.6" fill="#ff8353"/><circle cx="214.6" cy="409.7" r="1.6" fill="#ff8353"/><circle cx="217.5" cy="423.9" r="1.6" fill="#ff8353"/><circle cx="220.5" cy="416.4" r="1.6" fill="#ff8353"/><circle cx="223.2" cy="423.7" r="1.6" fill="#ff8353"/><circle cx="225.9" cy="419.1" r="1.6" fill="#ff8353"/><circle cx="229.1" cy="421.8" r="1.6" fill="#ff8353"/><circle cx="232.3" cy="421.0" r="1.6" fill="#ff8353"/><circle cx="235.3" cy="418.3" r="1.6" fill="#ff8353"/><circle cx="238.0" cy="415.6" r="1.6" fill="#ff8353"/><circle cx="240.7" cy="407.0" r="1.6" fill="#ff8353"/><circle cx="246.8" cy="410.5" r="1.6" fill="#ff8353"/><circle cx="249.8" cy="416.4" r="1.6" fill="#ff8353"/><circle cx="252.8" cy="414.0" r="1.6" fill="#ff8353"/><circle cx="255.7" cy="411.6" r="1.6" fill="#ff8353"/><circle cx="258.4" cy="423.7" r="1.6" fill="#ff8353"/><circle cx="261.1" cy="443.0" r="1.6" fill="#ff8353"/><circle cx="264.6" cy="396.2" r="1.6" fill="#ff8353"/><circle cx="267.3" cy="440.6" r="1.6" fill="#ff8353"/><circle cx="270.2" cy="401.6" r="1.6" fill="#ff8353"/><circle cx="272.9" cy="418.8" r="1.6" fill="#ff8353"/><circle cx="276.2" cy="398.1" r="1.6" fill="#ff8353"/><circle cx="279.4" cy="405.9" r="1.6" fill="#ff8353"/><circle cx="282.1" cy="400.3" r="1.6" fill="#ff8353"/><circle cx="285.6" cy="406.4" r="1.6" fill="#ff8353"/><circle cx="288.3" cy="408.9" r="1.6" fill="#ff8353"/><circle cx="290.7" cy="418.8" r="1.6" fill="#ff8353"/><circle cx="293.4" cy="414.8" r="1.6" fill="#ff8353"/><circle cx="296.3" cy="411.0" r="1.6" fill="#ff8353"/><circle cx="299.8" cy="412.9" r="1.6" fill="#ff8353"/><circle cx="302.5" cy="412.9" r="1.6" fill="#ff8353"/><circle cx="305.2" cy="405.6" r="1.6" fill="#ff8353"/><circle cx="308.5" cy="409.4" r="1.6" fill="#ff8353"/><circle cx="314.4" cy="411.0" r="1.6" fill="#ff8353"/><circle cx="317.1" cy="401.6" r="1.6" fill="#ff8353"/><circle cx="320.6" cy="402.9" r="1.6" fill="#ff8353"/><circle cx="323.2" cy="407.5" r="1.6" fill="#ff8353"/>
<text x="65" y="301.3" text-anchor="end" class="ax">18억</text><text x="65" y="323.1" text-anchor="end" class="ax">16억</text><text x="65" y="344.8" text-anchor="end" class="ax">14억</text><text x="65" y="366.6" text-anchor="end" class="ax">12억</text><text x="65" y="388.4" text-anchor="end" class="ax">10억</text><text x="65" y="410.1" text-anchor="end" class="ax">8억</text><text x="65" y="431.9" text-anchor="end" class="ax">6억</text><text x="65" y="453.7" text-anchor="end" class="ax">4억</text><text x="65" y="475.5" text-anchor="end" class="ax">2억</text><text x="339.5" y="301.3" class="ax">180건</text><text x="339.5" y="321.9" class="ax">160건</text><text x="339.5" y="342.4" class="ax">140건</text><text x="339.5" y="363.0" class="ax">120건</text><text x="339.5" y="383.5" class="ax">100건</text><text x="339.5" y="404.1" class="ax">80건</text><text x="339.5" y="424.6" class="ax">60건</text><text x="339.5" y="445.1" class="ax">40건</text><text x="339.5" y="465.7" class="ax">20건</text><text x="339.5" y="486.2" class="ax">0</text><text x="67.7" y="498" textLength="19.6" lengthAdjust="spacingAndGlyphs" class="ax">19년</text><text x="103.1" y="498" textLength="19.6" lengthAdjust="spacingAndGlyphs" class="ax">20년</text><text x="138.1" y="498" textLength="19.6" lengthAdjust="spacingAndGlyphs" class="ax">21년</text><text x="173.1" y="498" textLength="19.6" lengthAdjust="spacingAndGlyphs" class="ax">22년</text><text x="208.0" y="498" textLength="19.6" lengthAdjust="spacingAndGlyphs" class="ax">23년</text><text x="244.3" y="498" textLength="19.6" lengthAdjust="spacingAndGlyphs" class="ax">24년</text><text x="279.3" y="498" textLength="19.6" lengthAdjust="spacingAndGlyphs" class="ax">25년</text>
</svg>
<div class="abs" style="left:163.2px;top:285.9px;width:81.2px;height:18.3px;background:#555;border-radius:9.2px"></div>
<div class="sm" style="left:203.8px;top:288.6px;font-size:8.6px;line-height:12px;color:#fff;font-weight:700;transform-origin:0 50%;transform:translateX(-28.75px) scaleX(1.2935)"><span style="font-size:9.6px">VS</span>가격비교</div>
<div class="sm" style="left:46.6px;top:509.8px;font-size:12px;line-height:16px;color:#111;font-weight:700;transform-origin:0 50%;transform:scaleX(1.0815)">06년 1월 ~ 25년 12월</div>
<div class="sm" style="left:360.6px;top:509.8px;font-size:9.6px;line-height:16px;color:#2433e8;font-weight:700;transform-origin:0 50%;transform:translateX(-67.00px) scaleX(1.2223)">최근 3년 보기</div>
<div class="abs" style="left:62px;top:532.7px;width:284px;height:6.8px;background:#1a2bff"></div>
<div class="abs" style="left:51px;top:528px;width:21px;height:16px;border-radius:50%;background:#fff;border:1.3px solid #9a9a9a"></div>
<div class="abs" style="left:336px;top:528px;width:21px;height:16px;border-radius:50%;background:#fff;border:1.3px solid #9a9a9a"></div>
<div class="abs" style="left:46.5px;top:553.8px;width:103px;height:26px;border:1px solid #bdbdbd;border-radius:4px"></div>
<div class="sm" style="left:54.0px;top:559.3px;font-size:12px;line-height:16px;color:#444;transform-origin:0 50%;transform:scaleX(1.1626)">동 선택</div>
<svg class="abs" style="left:131px;top:563.5px" width="10" height="7" viewBox="0 0 10 7"><path d="M1 1.2 L5 5.2 L9 1.2" fill="none" stroke="#666" stroke-width="1.1"/></svg>
<div class="abs" style="left:157px;top:553.8px;width:103.5px;height:26px;border:1px solid #bdbdbd;border-radius:4px"></div>
<div class="sm" style="left:165.6px;top:559.3px;font-size:12px;line-height:16px;color:#444;transform-origin:0 50%;transform:scaleX(1.1517)">호 선택</div>
<svg class="abs" style="left:242.5px;top:563.5px" width="10" height="7" viewBox="0 0 10 7"><path d="M1 1.2 L5 5.2 L9 1.2" fill="none" stroke="#666" stroke-width="1.1"/></svg>
<div class="abs" style="left:268.3px;top:553.8px;width:92.5px;height:26px;background:#ff3535;border-radius:4px"></div>
<div class="sm" style="left:315.0px;top:559.2px;font-size:11.4px;line-height:16px;color:#fff;font-weight:700;transform-origin:0 50%;transform:translateX(-25.25px) scaleX(1.1199)">집 내놓기</div>
<div class="abs" style="left:47px;top:590px;width:313.5px;height:21px;background:#fafafa"></div>
<div class="abs" style="left:47px;top:590px;width:313.5px;height:1px;background:#cfcfcf"></div>
<div class="abs" style="left:47px;top:610.6px;width:313.5px;height:1.4px;background:#bcbcbc"></div>
<div class="sm" style="left:68.0px;top:594.6px;font-size:7.6px;line-height:12px;color:#777;transform-origin:0 50%;transform:translateX(-8.50px) scaleX(1.2156)">계약</div>
<div class="sm" style="left:100.0px;top:594.6px;font-size:7.6px;line-height:12px;color:#777;transform-origin:0 50%;transform:translateX(-3.50px) scaleX(1.0000)">일</div>
<div class="sm" style="left:125.6px;top:594.6px;font-size:7.6px;line-height:12px;color:#777;transform-origin:0 50%;transform:translateX(-8.50px) scaleX(1.2156)">정보</div>
<div class="sm" style="left:192.0px;top:594.6px;font-size:7.6px;line-height:12px;color:#777;transform-origin:0 50%;transform:translateX(-12.00px) scaleX(1.2066)">가격 ↓</div>
<div class="sm" style="left:269.5px;top:594.6px;font-size:7.6px;line-height:12px;color:#777;transform-origin:0 50%;transform:translateX(-8.50px) scaleX(1.2156)">타입</div>
<div class="sm" style="left:312.8px;top:594.6px;font-size:7.6px;line-height:12px;color:#777;transform-origin:0 50%;transform:translateX(-12.50px) scaleX(1.1923)">거래동</div>
<div class="sm" style="left:349.0px;top:594.6px;font-size:7.6px;line-height:12px;color:#777;transform-origin:0 50%;transform:translateX(-4.00px) scaleX(1.1429)">층</div>
<div class="sm" style="left:50.2px;top:614.9px;font-size:13px;line-height:16px;color:#111;font-weight:700;transform-origin:0 50%;transform:scaleX(1.0539)">25.12</div>
<div class="sm" style="left:94.2px;top:616.9px;font-size:7.8px;line-height:12px;color:#444;font-weight:700;transform-origin:0 50%;transform:scaleX(1.0129)">17</div>
<div class="sm" style="left:115.2px;top:616.9px;font-size:8.6px;line-height:12px;color:#111;font-weight:700;transform-origin:0 50%;transform:scaleX(1.2004)">갱신</div>
<div class="sm" style="left:145.3px;top:617.2px;font-size:8.4px;line-height:12px;color:#ff5a3c;font-weight:700;transform-origin:0 50%;transform:scaleX(1.2709)">전세</div>
<div class="sm" style="left:169.6px;top:614.8px;font-size:12.6px;line-height:16px;color:#ff5a3c;-webkit-text-stroke:0.3px #ff5a3c;transform-origin:0 50%;transform:scaleX(1.1439)">7<span style="font-size:11.8px">억</span> 9,800</div>
<div class="sm" style="left:264.0px;top:617.1px;font-size:7.6px;line-height:12px;color:#333;font-weight:700;transform-origin:0 50%;transform:scaleX(1.4669)">84</div>
<div class="sm" style="left:347.0px;top:616.9px;font-size:8.4px;line-height:12px;color:#222;font-weight:700;transform-origin:0 50%;transform:translateX(-10.75px) scaleX(1.2624)">21층</div>
<div class="abs" style="left:47.0px;top:635.2px;width:313.5px;height:1px;background:#e2e2e2"></div>
<div class="sm" style="left:94.2px;top:641.0px;font-size:7.8px;line-height:12px;color:#444;font-weight:700;transform-origin:0 50%;transform:scaleX(1.0129)">12</div>
<div class="sm" style="left:145.3px;top:641.3px;font-size:8.4px;line-height:12px;color:#ff5a3c;font-weight:700;transform-origin:0 50%;transform:scaleX(1.2709)">전세</div>
<div class="sm" style="left:169.6px;top:638.9px;font-size:12.6px;line-height:16px;color:#ff5a3c;-webkit-text-stroke:0.3px #ff5a3c;transform-origin:0 50%;transform:scaleX(1.1439)">6<span style="font-size:11.8px">억</span> 8,000</div>
<div class="sm" style="left:264.0px;top:641.2px;font-size:7.6px;line-height:12px;color:#333;font-weight:700;transform-origin:0 50%;transform:scaleX(1.4669)">84</div>
<div class="sm" style="left:347.0px;top:641.0px;font-size:8.4px;line-height:12px;color:#222;font-weight:700;transform-origin:0 50%;transform:translateX(-10.75px) scaleX(1.2624)">30층</div>
<div class="abs" style="left:87.6px;top:659.1px;width:272.9px;height:1px;background:#e2e2e2"></div>
<div class="sm" style="left:94.2px;top:665.1px;font-size:7.8px;line-height:12px;color:#444;font-weight:700;transform-origin:0 50%;transform:scaleX(0.9212)">11</div>
<div class="sm" style="left:145.3px;top:665.4px;font-size:8.4px;line-height:12px;color:#ff5a3c;font-weight:700;transform-origin:0 50%;transform:scaleX(1.2709)">전세</div>
<div class="sm" style="left:169.6px;top:663.0px;font-size:12.6px;line-height:16px;color:#ff5a3c;-webkit-text-stroke:0.3px #ff5a3c;transform-origin:0 50%;transform:scaleX(1.1439)">8<span style="font-size:11.8px">억</span> 5,000</div>
<div class="sm" style="left:264.0px;top:665.3px;font-size:7.6px;line-height:12px;color:#333;font-weight:700;transform-origin:0 50%;transform:scaleX(1.4669)">84</div>
<div class="sm" style="left:347.0px;top:665.1px;font-size:8.4px;line-height:12px;color:#222;font-weight:700;transform-origin:0 50%;transform:translateX(-6.70px) scaleX(1.0828)">8층</div>
<div class="abs" style="left:87.6px;top:683.1px;width:272.9px;height:1px;background:#e2e2e2"></div>
<div class="sm" style="left:94.2px;top:689.3px;font-size:7.8px;line-height:12px;color:#444;font-weight:700;transform-origin:0 50%;transform:scaleX(0.9212)">11</div>
<div class="sm" style="left:145.3px;top:689.6px;font-size:8.4px;line-height:12px;color:#ff5a3c;font-weight:700;transform-origin:0 50%;transform:scaleX(1.2709)">전세</div>
<div class="sm" style="left:169.6px;top:687.2px;font-size:12.6px;line-height:16px;color:#ff5a3c;-webkit-text-stroke:0.3px #ff5a3c;transform-origin:0 50%;transform:scaleX(1.1439)">8<span style="font-size:11.8px">억</span> 5,000</div>
<div class="sm" style="left:264.0px;top:689.5px;font-size:7.6px;line-height:12px;color:#333;font-weight:700;transform-origin:0 50%;transform:scaleX(1.4669)">84</div>
<div class="sm" style="left:347.0px;top:689.3px;font-size:8.4px;line-height:12px;color:#222;font-weight:700;transform-origin:0 50%;transform:translateX(-10.75px) scaleX(1.2624)">21층</div>
<div class="abs" style="left:47.0px;top:707.4px;width:313.5px;height:1px;background:#e2e2e2"></div>
<div class="sm" style="left:50.2px;top:711.4px;font-size:13px;line-height:16px;color:#111;font-weight:700;transform-origin:0 50%;transform:scaleX(1.0777)">25.11</div>
<div class="sm" style="left:94.2px;top:713.4px;font-size:7.8px;line-height:12px;color:#444;font-weight:700;transform-origin:0 50%;transform:scaleX(1.0129)">26</div>
<div class="sm" style="left:145.3px;top:713.7px;font-size:8.4px;line-height:12px;color:#2a3ff0;font-weight:700;transform-origin:0 50%;transform:scaleX(1.2709)">매매</div>
<div class="sm" style="left:169.6px;top:711.3px;font-size:12.6px;line-height:16px;color:#2a3ff0;-webkit-text-stroke:0.3px #2a3ff0;transform-origin:0 50%;transform:scaleX(1.1404)">15<span style="font-size:11.8px">억</span> 5,000</div>
<div class="sm" style="left:264.0px;top:713.6px;font-size:7.6px;line-height:12px;color:#333;font-weight:700;transform-origin:0 50%;transform:scaleX(1.4669)">84</div>
<div class="sm" style="left:347.0px;top:713.4px;font-size:8.4px;line-height:12px;color:#222;font-weight:700;transform-origin:0 50%;transform:translateX(-10.75px) scaleX(1.2624)">10층</div>
<div class="abs" style="left:47.0px;top:731.4px;width:313.5px;height:1px;background:#e2e2e2"></div>
<div class="sm" style="left:94.2px;top:737.5px;font-size:7.8px;line-height:12px;color:#444;font-weight:700;transform-origin:0 50%;transform:scaleX(1.0129)">24</div>
<div class="sm" style="left:145.3px;top:737.8px;font-size:8.4px;line-height:12px;color:#ff5a3c;font-weight:700;transform-origin:0 50%;transform:scaleX(1.2709)">전세</div>
<div class="sm" style="left:169.6px;top:735.4px;font-size:12.6px;line-height:16px;color:#ff5a3c;-webkit-text-stroke:0.3px #ff5a3c;transform-origin:0 50%;transform:scaleX(1.1524)">8<span style="font-size:11.8px">억</span></div>
<div class="sm" style="left:264.0px;top:737.7px;font-size:7.6px;line-height:12px;color:#333;font-weight:700;transform-origin:0 50%;transform:scaleX(1.4669)">84</div>
<div class="sm" style="left:347.0px;top:737.5px;font-size:8.4px;line-height:12px;color:#222;font-weight:700;transform-origin:0 50%;transform:translateX(-6.70px) scaleX(1.0828)">6층</div>
<div class="abs" style="left:87.6px;top:755.3px;width:272.9px;height:1px;background:#e2e2e2"></div>
<div class="sm" style="left:94.2px;top:761.6px;font-size:7.8px;line-height:12px;color:#444;font-weight:700;transform-origin:0 50%;transform:scaleX(1.0129)">15</div>
<div class="sm" style="left:145.3px;top:761.9px;font-size:8.4px;line-height:12px;color:#ff5a3c;font-weight:700;transform-origin:0 50%;transform:scaleX(1.2709)">전세</div>
<div class="sm" style="left:169.6px;top:759.5px;font-size:12.6px;line-height:16px;color:#ff5a3c;-webkit-text-stroke:0.3px #ff5a3c;transform-origin:0 50%;transform:scaleX(1.1439)">8<span style="font-size:11.8px">억</span> 6,000</div>
<div class="sm" style="left:264.0px;top:761.8px;font-size:7.6px;line-height:12px;color:#333;font-weight:700;transform-origin:0 50%;transform:scaleX(1.4669)">84</div>
<div class="sm" style="left:347.0px;top:761.6px;font-size:8.4px;line-height:12px;color:#222;font-weight:700;transform-origin:0 50%;transform:translateX(-10.75px) scaleX(1.2624)">39층</div>
<div class="abs" style="left:87.6px;top:779.5px;width:272.9px;height:1px;background:#e2e2e2"></div>
<div class="sm" style="left:94.2px;top:785.7px;font-size:7.8px;line-height:12px;color:#444;font-weight:700;transform-origin:0 50%;transform:scaleX(1.0129)">14</div>
<div class="sm" style="left:145.3px;top:786.0px;font-size:8.4px;line-height:12px;color:#ff5a3c;font-weight:700;transform-origin:0 50%;transform:scaleX(1.2709)">전세</div>
<div class="sm" style="left:169.6px;top:783.6px;font-size:12.6px;line-height:16px;color:#ff5a3c;-webkit-text-stroke:0.3px #ff5a3c;transform-origin:0 50%;transform:scaleX(1.1439)">8<span style="font-size:11.8px">억</span> 6,000</div>
<div class="sm" style="left:264.0px;top:785.9px;font-size:7.6px;line-height:12px;color:#333;font-weight:700;transform-origin:0 50%;transform:scaleX(1.4669)">84</div>
<div class="sm" style="left:347.0px;top:785.7px;font-size:8.4px;line-height:12px;color:#222;font-weight:700;transform-origin:0 50%;transform:translateX(-6.70px) scaleX(1.0828)">5층</div>
<div class="abs" style="left:87.6px;top:803.5px;width:272.9px;height:1px;background:#e2e2e2"></div>
<div class="sm" style="left:94.2px;top:809.9px;font-size:7.8px;line-height:12px;color:#444;font-weight:700;transform-origin:0 50%;transform:scaleX(1.0129)">12</div>
<div class="sm" style="left:145.3px;top:810.2px;font-size:8.4px;line-height:12px;color:#ff5a3c;font-weight:700;transform-origin:0 50%;transform:scaleX(1.2709)">전세</div>
<div class="sm" style="left:169.6px;top:807.8px;font-size:12.6px;line-height:16px;color:#ff5a3c;-webkit-text-stroke:0.3px #ff5a3c;transform-origin:0 50%;transform:scaleX(1.1524)">8<span style="font-size:11.8px">억</span></div>
<div class="sm" style="left:264.0px;top:810.1px;font-size:7.6px;line-height:12px;color:#333;font-weight:700;transform-origin:0 50%;transform:scaleX(1.4669)">84</div>
<div class="sm" style="left:347.0px;top:809.9px;font-size:8.4px;line-height:12px;color:#222;font-weight:700;transform-origin:0 50%;transform:translateX(-6.70px) scaleX(1.0828)">4층</div>
<div class="abs" style="left:87.6px;top:827.5px;width:272.9px;height:1px;background:#e2e2e2"></div>
<div class="abs" style="left:313px;top:817.6px;width:60px;height:10.8px;overflow:hidden"><div style="width:58px;height:58px;border-radius:50%;background:#1a2bff;margin-left:0.6px"></div></div>
<svg class="abs" style="left:0;top:0" width="1520" height="855" viewBox="0 0 1520 855">
<style>.lg{font-family:"Liberation Sans","Noto Sans CJK KR",sans-serif;font-size:11.5px;fill:#666}
.ay{font-family:"Liberation Sans","Noto Sans CJK KR",sans-serif;font-size:8.2px;fill:#666}
.axx{font-family:"Liberation Sans","Noto Sans CJK KR",sans-serif;font-size:8.6px;fill:#555}
.ms{font-family:"Liberation Sans","Noto Sans CJK KR",sans-serif;font-size:8px;fill:#333}</style>
<rect x="542.8" y="170.8" width="14" height="10" fill="#1e2dff" stroke="#8f9bff" stroke-width="1"/><text x="559.8" y="179.8" textLength="23.4" lengthAdjust="spacingAndGlyphs" class="lg">매매</text><rect x="591.7" y="170.8" width="14" height="10" fill="#fff" stroke="#d4d4d8" stroke-width="1"/><text x="609.0" y="179.8" textLength="23.4" lengthAdjust="spacingAndGlyphs" class="lg">전세</text><rect x="639.9" y="170.8" width="14" height="10" fill="#fff" stroke="#d4d4d8" stroke-width="1"/><text x="657.6" y="179.8" textLength="23.4" lengthAdjust="spacingAndGlyphs" class="lg">월세</text>
<line x1="427.8" x2="663" y1="194.7" y2="194.7" stroke="#eeeeee"/><text x="387" y="197.7" textLength="29.5" lengthAdjust="spacingAndGlyphs" class="ay">4000개</text><line x1="427.8" x2="663" y1="221.0" y2="221.0" stroke="#eeeeee"/><text x="387" y="224.0" textLength="29.5" lengthAdjust="spacingAndGlyphs" class="ay">3600개</text><line x1="427.8" x2="663" y1="247.4" y2="247.4" stroke="#eeeeee"/><text x="387" y="250.4" textLength="29.5" lengthAdjust="spacingAndGlyphs" class="ay">3200개</text><line x1="427.8" x2="663" y1="273.7" y2="273.7" stroke="#eeeeee"/><text x="387" y="276.7" textLength="29.5" lengthAdjust="spacingAndGlyphs" class="ay">2800개</text><line x1="427.8" x2="663" y1="300.1" y2="300.1" stroke="#eeeeee"/><text x="387" y="303.1" textLength="29.5" lengthAdjust="spacingAndGlyphs" class="ay">2400개</text><line x1="427.8" x2="663" y1="326.4" y2="326.4" stroke="#eeeeee"/><text x="387" y="329.4" textLength="29.5" lengthAdjust="spacingAndGlyphs" class="ay">2000개</text><rect x="427.8" y="194.7" width="235.2" height="131.7" fill="none" stroke="#eeeeee"/>
<polygon points="427.8,326.4 427.8,289.6 430.3,291.3 432.7,296.2 435.2,299.9 437.7,299.1 440.1,302.8 442.6,299.9 445.0,294.5 447.5,292.0 449.9,286.4 452.4,283.9 456.1,281.4 459.8,281.4 463.5,279.0 465.9,277.8 468.4,277.8 470.8,272.9 473.3,270.9 477.0,269.7 480.7,270.4 483.1,263.0 485.6,255.7 488.0,250.7 491.7,249.5 492.9,242.1 495.4,234.8 497.9,227.4 500.3,226.7 502.8,228.1 505.2,232.3 508.9,234.8 511.4,233.5 515.0,229.9 518.7,227.4 522.4,224.9 524.9,218.8 527.3,213.4 529.8,216.8 533.5,220.5 537.2,222.5 540.8,223.0 544.5,222.5 547.0,224.9 549.4,228.6 551.9,238.5 554.4,244.6 556.8,252.0 559.3,253.9 561.7,252.0 564.2,247.1 566.6,240.9 569.1,239.7 571.6,232.3 574.0,222.5 576.5,220.8 580.2,219.5 582.6,214.6 586.3,215.8 590.0,217.6 593.7,215.1 597.4,214.4 599.8,205.3 602.3,200.4 606.0,200.4 608.4,202.8 610.9,199.6 614.6,201.1 618.2,204.1 620.7,206.5 623.2,211.4 625.6,217.6 628.1,226.2 630.5,233.5 633.0,230.6 635.4,232.3 637.9,232.3 640.4,228.6 642.8,227.4 645.3,231.1 647.7,242.1 650.2,253.2 651.4,258.1 652.6,282.7 653.9,297.4 655.6,300.4 657.6,312.2 660.0,318.3 663.0,324.4 663.0,326.4" fill="#5564f7"/>
<text x="635" y="204.5" textLength="31" lengthAdjust="spacingAndGlyphs" class="ms">매물 수</text>
<text x="411.3" y="342.0" textLength="31.4" lengthAdjust="spacingAndGlyphs" class="axx">22/12/1</text><text x="448.0" y="342.0" textLength="31.4" lengthAdjust="spacingAndGlyphs" class="axx">23/5/20</text><text x="481.1" y="342.0" textLength="38.3" lengthAdjust="spacingAndGlyphs" class="axx">23/11/15</text><text x="524.4" y="342.0" textLength="27.0" lengthAdjust="spacingAndGlyphs" class="axx">24/5/6</text><text x="555.6" y="342.0" textLength="38.3" lengthAdjust="spacingAndGlyphs" class="axx">24/10/24</text><text x="596.0" y="342.0" textLength="31.4" lengthAdjust="spacingAndGlyphs" class="axx">25/4/14</text><text x="629.1" y="342.0" textLength="38.3" lengthAdjust="spacingAndGlyphs" class="axx">25/10/16</text>
<rect x="542.8" y="362.1" width="14" height="10" fill="#fff" stroke="#d4d4d8" stroke-width="1"/><text x="559.8" y="371.1" textLength="23.4" lengthAdjust="spacingAndGlyphs" class="lg">매매</text><rect x="591.7" y="362.1" width="14" height="10" fill="#ff5a3c" stroke="#ff9a85" stroke-width="1"/><text x="609.0" y="371.1" textLength="23.4" lengthAdjust="spacingAndGlyphs" class="lg">전세</text><rect x="639.9" y="362.1" width="14" height="10" fill="#fff" stroke="#d4d4d8" stroke-width="1"/><text x="657.6" y="371.1" textLength="23.4" lengthAdjust="spacingAndGlyphs" class="lg">월세</text>
<line x1="427.8" x2="663" y1="400.3" y2="400.3" stroke="#eeeeee"/><text x="387.0" y="403.3" textLength="29.5" lengthAdjust="spacingAndGlyphs" class="ay">1800개</text><line x1="427.8" x2="663" y1="429.7" y2="429.7" stroke="#eeeeee"/><text x="387.0" y="432.7" textLength="29.5" lengthAdjust="spacingAndGlyphs" class="ay">1400개</text><line x1="427.8" x2="663" y1="459.0" y2="459.0" stroke="#eeeeee"/><text x="387.0" y="462.0" textLength="29.5" lengthAdjust="spacingAndGlyphs" class="ay">1000개</text><line x1="427.8" x2="663" y1="488.4" y2="488.4" stroke="#eeeeee"/><text x="392.2" y="491.4" textLength="24.3" lengthAdjust="spacingAndGlyphs" class="ay">600개</text><line x1="427.8" x2="663" y1="517.7" y2="517.7" stroke="#eeeeee"/><text x="392.2" y="520.7" textLength="24.3" lengthAdjust="spacingAndGlyphs" class="ay">200개</text><line x1="663" x2="663" y1="400.3" y2="517.7" stroke="#eeeeee"/>
<polygon points="427.8,517.7 427.8,392.9 430.3,391.7 432.7,390.0 435.2,396.6 437.7,402.7 439.4,411.8 442.6,413.3 446.3,416.7 449.4,421.2 451.7,434.7 454.1,443.3 456.6,450.2 459.8,451.9 462.2,455.1 464.7,456.8 467.1,462.2 470.8,465.9 473.3,469.1 476.2,471.5 479.4,477.7 481.9,482.1 484.3,483.8 490.5,483.8 492.9,480.1 496.6,477.7 499.1,472.3 501.5,471.5 502.8,467.4 505.2,467.1 507.7,462.9 510.1,464.7 513.8,464.2 517.5,465.4 521.2,465.4 524.9,465.4 527.3,467.9 529.8,472.3 533.5,472.8 535.9,472.3 538.4,472.8 542.1,475.7 545.8,475.2 549.4,477.2 551.9,477.7 555.6,477.2 558.0,480.1 560.5,482.1 563.0,484.6 566.6,484.6 569.1,481.4 571.6,477.7 574.0,474.5 576.5,473.3 578.9,470.3 581.4,467.4 583.8,464.2 586.3,461.0 590.0,460.0 592.4,453.1 594.9,447.0 597.4,443.3 599.1,437.1 602.3,431.0 604.7,427.3 607.2,426.6 609.6,431.0 612.1,436.4 614.6,444.5 617.0,450.7 619.5,456.1 621.9,462.9 624.4,464.2 626.8,469.1 629.3,475.2 631.8,482.6 634.2,488.7 636.7,493.6 639.1,494.4 641.6,497.3 644.0,499.1 647.7,499.3 650.2,497.8 652.6,499.8 655.1,503.5 657.6,507.2 660.0,510.8 663.0,514.0 663.0,517.7" fill="#ff8d78"/>
<text x="635" y="396" textLength="31" lengthAdjust="spacingAndGlyphs" class="ms">매물 수</text>
<text x="411.3" y="533.0" textLength="31.4" lengthAdjust="spacingAndGlyphs" class="axx">22/12/1</text><text x="448.0" y="533.0" textLength="31.4" lengthAdjust="spacingAndGlyphs" class="axx">23/5/20</text><text x="481.1" y="533.0" textLength="38.3" lengthAdjust="spacingAndGlyphs" class="axx">23/11/15</text><text x="524.4" y="533.0" textLength="27.0" lengthAdjust="spacingAndGlyphs" class="axx">24/5/6</text><text x="555.6" y="533.0" textLength="38.3" lengthAdjust="spacingAndGlyphs" class="axx">24/10/24</text><text x="596.0" y="533.0" textLength="31.4" lengthAdjust="spacingAndGlyphs" class="axx">25/4/14</text><text x="629.1" y="533.0" textLength="38.3" lengthAdjust="spacingAndGlyphs" class="axx">25/10/16</text>
</svg>
<div class="abs bar" style="left:377px;top:570.4px;width:314.5px;height:23.4px"></div>
<div class="abs bar" style="left:689.3px;top:593px;width:2.2px;height:5px"></div>
<div class="sm" style="left:534.2px;top:569.6px;font-size:17px;line-height:25px;color:#fff;transform-origin:0 50%;transform:translateX(-16.50px) scaleX(1.0549)">공급</div>
<div class="abs" style="left:377px;top:593.8px;width:309.5px;height:24.5px;background:#f5f5f5"></div>
<div class="abs" style="left:393.4px;top:604.5px;width:8.6px;height:6px;background:#1a2bff"></div>
<div class="sm" style="left:408.4px;top:599.8px;font-size:11.6px;line-height:15px;color:#5a5a5a;transform-origin:0 50%;transform:scaleX(1.0873)">서울 성북구</div>
<div class="abs" style="left:377.2px;top:624.7px;width:233px;height:16.8px;border:1.5px solid #ff3b30"></div>
<div class="sm" style="left:492.7px;top:626.6px;font-size:9.4px;line-height:13px;color:#ff2d2d;font-weight:700;transform-origin:0 50%;transform:translateX(-34.00px) scaleX(1.2509)">대체지역 추가</div>
<div class="abs" style="left:615.8px;top:624.7px;width:70.6px;height:16.8px;border:1px solid #cfcfcf"></div>
<div class="sm" style="left:651.2px;top:626.6px;font-size:9.4px;line-height:13px;color:#333;font-weight:700;transform-origin:0 50%;transform:translateX(-21.50px) scaleX(1.2458)">전체삭제</div>
<div class="abs" style="left:377px;top:650px;width:309.5px;height:6.6px;background:#f5f5f5"></div>
<div class="sm" style="left:416.5px;top:665.8px;font-size:8.4px;line-height:12px;color:#b4b4b4;letter-spacing:1px;transform-origin:0 50%;transform:scaleX(1.1545)">※ 25년 – 29년 사이 입주하는 아파트는 빨간막대 입니다.</div>
<svg class="abs" style="left:0;top:0" width="1520" height="855" viewBox="0 0 1520 855">
<style>.sy{font-family:"Liberation Sans","Noto Sans CJK KR",sans-serif;font-size:8.6px;fill:#777}
.sx{font-family:"Liberation Sans","Noto Sans CJK KR",sans-serif;font-size:9.4px;fill:#777}</style>
<line x1="409" x2="684.4" y1="685.4" y2="685.4" stroke="#eeeeee"/><text x="395.5" y="688.6" text-anchor="end" class="sy">4천</text><line x1="409" x2="684.4" y1="711.7" y2="711.7" stroke="#eeeeee"/><text x="395.5" y="714.9" text-anchor="end" class="sy">3천</text><line x1="409" x2="684.4" y1="738.1" y2="738.1" stroke="#eeeeee"/><text x="395.5" y="741.3" text-anchor="end" class="sy">2천</text><line x1="409" x2="684.4" y1="764.4" y2="764.4" stroke="#eeeeee"/><text x="395.5" y="767.6" text-anchor="end" class="sy">1천</text><line x1="409" x2="684.4" y1="790.7" y2="790.7" stroke="#eeeeee"/><text x="395.5" y="793.9" text-anchor="end" class="sy">0</text><rect x="409" y="685.4" width="275.4" height="105.3" fill="none" stroke="#eeeeee"/><rect x="417.3" y="717.5" width="15.7" height="73.2" fill="#8a92fb"/><rect x="486.6" y="774.4" width="15.4" height="16.3" fill="#8a92fb"/><rect x="522.0" y="749.7" width="15.2" height="41.0" fill="#ffb1a1"/><rect x="556.0" y="785.3" width="15.3" height="5.4" fill="#ffb1a1"/><rect x="590.8" y="714.3" width="15.4" height="76.4" fill="#ffb1a1"/><line x1="409" x2="684.4" y1="734.5" y2="734.5" stroke="#ff9a9a" stroke-width="1" stroke-dasharray="4,4"/><text x="423.8" y="804" text-anchor="middle" class="sx">2022</text><text x="458.6" y="804" text-anchor="middle" class="sx">2023</text><text x="493.0" y="804" text-anchor="middle" class="sx">2024</text><text x="528.0" y="804" text-anchor="middle" class="sx">2025</text><text x="562.0" y="804" text-anchor="middle" class="sx">2026</text><text x="597.0" y="804" text-anchor="middle" class="sx">2027</text><text x="631.6" y="804" text-anchor="middle" class="sx">2028</text><text x="667.0" y="804" text-anchor="middle" class="sx">2029</text><text x="634.9" y="693.6" textLength="31.5" lengthAdjust="spacingAndGlyphs" class="sx">가구 수</text><text x="612" y="733.3" textLength="70" lengthAdjust="spacingAndGlyphs" class="sx" style="font-size:9.6px">적정 수요 2,118</text></svg>
<div class="abs" style="left:425px;top:694.3px;width:148px;height:55.2px;background:#fff;border-right:1px solid #e5e5e5"></div>
<div class="abs" style="left:423.2px;top:677px;width:149px;height:17.4px;background:#585858"></div>
<div class="abs" style="left:423.2px;top:677px;width:2px;height:17.4px;background:#3a3a3a"></div>
<div class="abs" style="left:490px;top:677px;width:1px;height:72.4px;background:#e3e3e3"></div>
<div class="abs" style="left:535px;top:677px;width:1px;height:72.4px;background:#e3e3e3"></div>
<div class="abs" style="left:425px;top:712.6px;width:147.5px;height:1px;background:#ececec"></div>
<div class="abs" style="left:425px;top:731.3px;width:147.5px;height:1px;background:#ececec"></div>
<div class="sm" style="left:458.0px;top:679.7px;font-size:8px;line-height:12px;color:#fff;font-weight:700;transform-origin:0 50%;transform:translateX(-14.50px) scaleX(1.0081)">단지명 –</div>
<div class="sm" style="left:513.3px;top:679.7px;font-size:8px;line-height:12px;color:#fff;font-weight:700;transform-origin:0 50%;transform:translateX(-18.00px) scaleX(0.9074)">입주년월 <span style="font-weight:400;color:#ccc">∨</span></div>
<div class="sm" style="left:554.0px;top:679.7px;font-size:8px;line-height:12px;color:#fff;font-weight:700;transform-origin:0 50%;transform:translateX(-17.25px) scaleX(0.9550)">총세대수 –</div>
<div class="sm" style="left:428.2px;top:697.5px;font-size:8px;line-height:12px;color:#111;font-weight:700;transform-origin:0 50%;transform:scaleX(0.8897)">상경궁롯데캐슬시···</div>
<div class="sm" style="left:513.0px;top:697.5px;font-size:8px;line-height:12px;color:#111;font-weight:700;transform-origin:0 50%;transform:translateX(-18.00px) scaleX(0.9183)">2027년 4월</div>
<div class="sm" style="left:554.0px;top:697.5px;font-size:8px;line-height:12px;color:#111;font-weight:700;transform-origin:0 50%;transform:translateX(-15.75px) scaleX(0.9065)">1,223세대</div>
<div class="sm" style="left:428.2px;top:716.1px;font-size:8px;line-height:12px;color:#111;font-weight:700;transform-origin:0 50%;transform:scaleX(0.8897)">푸르지오라디우스···</div>
<div class="sm" style="left:513.0px;top:716.1px;font-size:8px;line-height:12px;color:#111;font-weight:700;transform-origin:0 50%;transform:translateX(-18.00px) scaleX(0.9183)">2027년 3월</div>
<div class="sm" style="left:554.0px;top:716.1px;font-size:8px;line-height:12px;color:#111;font-weight:700;transform-origin:0 50%;transform:translateX(-15.75px) scaleX(0.9065)">1,637세대</div>
<div class="sm" style="left:428.2px;top:734.7px;font-size:8px;line-height:12px;color:#111;font-weight:700;transform-origin:0 50%;transform:scaleX(0.8981)">보문센트럴아이파크</div>
<div class="sm" style="left:513.0px;top:734.7px;font-size:8px;line-height:12px;color:#111;font-weight:700;transform-origin:0 50%;transform:translateX(-18.00px) scaleX(0.9183)">2026년 9월</div>
<div class="sm" style="left:554.0px;top:734.7px;font-size:8px;line-height:12px;color:#111;font-weight:700;transform-origin:0 50%;transform:translateX(-12.75px) scaleX(0.9082)">199세대</div>
</body>
</html>
